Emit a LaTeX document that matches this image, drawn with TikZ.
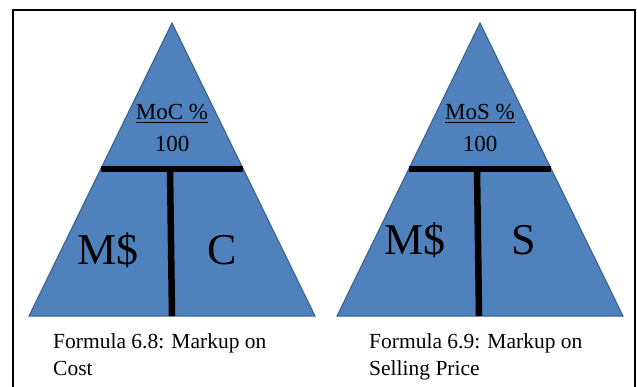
\documentclass[tikz,border=0pt]{standalone}
\usepackage{fontspec}
\setmainfont{Liberation Serif}
\usepackage{xcolor}
\usepackage{tikz}

\definecolor{triblue}{RGB}{79,129,189}
\definecolor{triedge}{RGB}{56,93,138}

\begin{document}
\begin{tikzpicture}[
  x=1pt, y=-1pt,
  tri/.style={fill=triblue, draw=triedge, line width=1pt, line join=miter},
  bar/.style={black, line width=6.5pt},
  ratio/.style={font=\fontsize{23}{26}\selectfont, anchor=base, inner sep=0pt},
  big/.style={font=\fontsize{44}{48}\selectfont, anchor=base, inner sep=0pt},
  caption/.style={font=\fontsize{21.5}{27}\selectfont, align=left, anchor=base west, inner sep=0pt}
]
\useasboundingbox (0,0) rectangle (637,387);

% Frame
\draw [line width=1.6pt] (13,387) -- (13,10) -- (635,10) -- (635,387);

% Markup on cost
\draw [tri] (172,23) -- (315,316) -- (29,316) -- cycle;
\draw [bar] (100.7,169) -- (243.3,169);
\draw [bar] (170,169) -- (172,316);
\node (moc) [ratio] at (172,120) {\underline{MoC \%}};
\node (moch) [ratio] at (172,152) {100};
\node (mdc) [big] at (108,265) {M\$};
\node (cost) [big] at (222,265) {C};
\node (capc) [caption] at (53,375) {Formula 6.8: Markup on\\Cost};

% Markup on selling price
\draw [tri] (480,23) -- (623,316) -- (337,316) -- cycle;
\draw [bar] (408.7,169) -- (551.3,169);
\draw [bar] (477,169) -- (479,316);
\node (mos) [ratio] at (480,120) {\underline{MoS \%}};
\node (mosh) [ratio] at (480,152) {100};
\node (mds) [big] at (415,255) {M\$};
\node (sell) [big] at (524,255) {S};
\node (caps) [caption] at (369,375) {Formula 6.9: Markup on\\Selling Price};

\end{tikzpicture}
\end{document}
